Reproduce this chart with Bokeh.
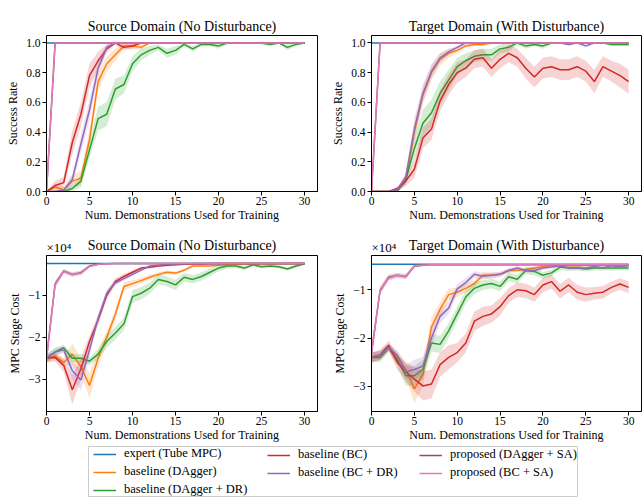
from bokeh.plotting import figure
from bokeh.models import (Range1d, FixedTicker, Legend, LegendItem, Title,
                          CustomJSTickFormatter, PrintfTickFormatter)
from bokeh.layouts import column, row
from bokeh.embed import file_html
from bokeh.resources import INLINE

FONT = "Liberation Serif"

# ---------------- data ----------------
X = [0, 1, 2, 3, 4, 5, 6, 7, 8, 9, 10, 11, 12, 13, 14, 15, 16, 17, 18, 19,
     20, 21, 22, 23, 24, 25, 26, 27, 28, 29, 30]

LABELS = ["expert (Tube MPC)", "baseline (DAgger)", "baseline (DAgger + DR)",
          "baseline (BC)", "baseline (BC + DR)", "proposed (DAgger + SA)",
          "proposed (BC + SA)"]
COLORS = ["#1f77b4", "#ff7f0e", "#2ca02c", "#d62728", "#9467bd", "#8c564b", "#e377c2"]

TITLES = ["Source Domain (No Disturbance)", "Target Domain (With Disturbance)",
          "Source Domain (No Disturbance)", "Target Domain (With Disturbance)"]
XLABEL = "Num. Demonstrations Used for Training"
YLABEL_RATE = "Success Rate"
YLABEL_COST = "MPC Stage Cost"
COST_SCALE_TEXT = "\u00d710\u2074"
X_TICKS = [0, 5, 10, 15, 20, 25, 30]
RATE_TICKS = [0.0, 0.2, 0.4, 0.6, 0.8, 1.0]
COST_TICKS = [-30000, -20000, -10000]

# --- Panel A: source success rate ---
A_EXPERT = [1.0, 1.0, 1.0, 1.0, 1.0, 1.0, 1.0, 1.0, 1.0, 1.0,
            1.0, 1.0, 1.0, 1.0, 1.0, 1.0, 1.0, 1.0, 1.0, 1.0,
            1.0, 1.0, 1.0, 1.0, 1.0, 1.0, 1.0, 1.0, 1.0, 1.0, 1.0]
A_DAGGER = [0.00, 0.03, 0.01, 0.07, 0.09, 0.35, 0.74, 0.86, 0.92, 0.98,
            0.98, 0.97, 1.00, 1.00, 1.00, 1.00, 1.00, 1.00, 1.00, 1.00,
            1.00, 1.00, 1.00, 1.00, 1.00, 1.00, 1.00, 1.00, 1.00, 1.00, 1.00]
A_DAGGER_SD = [0, 0.02, 0.02, 0.04, 0.05, 0.06, 0.06, 0.05, 0.04, 0.02,
               0.02, 0.02, 0, 0, 0, 0, 0, 0, 0, 0,
               0, 0, 0, 0, 0, 0, 0, 0, 0, 0, 0]
A_DAGGERDR = [0, 0, 0, 0.02, 0.07, 0.28, 0.49, 0.52, 0.69, 0.72,
              0.86, 0.92, 0.95, 0.97, 0.93, 0.95, 0.99, 0.96, 0.99, 0.99,
              0.98, 1.0, 1.0, 1.0, 1.0, 1.0, 0.99, 1.0, 0.97, 0.99, 1.0]
A_DAGGERDR_SD = [0, 0, 0.01, 0.02, 0.04, 0.06, 0.08, 0.08, 0.07, 0.06,
                 0.05, 0.04, 0.03, 0.02, 0.03, 0.03, 0.01, 0.02, 0.01, 0.01,
                 0.02, 0.01, 0, 0, 0, 0.01, 0.01, 0, 0.02, 0.01, 0]
A_BC = [0, 0.04, 0.06, 0.33, 0.52, 0.78, 0.88, 0.96, 1.0, 0.97,
        0.98, 1.0, 1.0, 1.0, 1.0, 1.0, 1.0, 1.0, 1.0, 1.0,
        1.0, 1.0, 1.0, 1.0, 1.0, 1.0, 1.0, 1.0, 1.0, 1.0, 1.0]
A_BC_SD = [0, 0.03, 0.04, 0.08, 0.08, 0.08, 0.06, 0.03, 0.01, 0.02,
           0.02, 0, 0, 0, 0, 0, 0, 0, 0, 0,
           0, 0, 0, 0, 0, 0, 0, 0, 0, 0, 0]
A_BCDR = [0, 0, 0.01, 0.08, 0.32, 0.55, 0.83, 0.97, 1.0, 1.0,
          1.0, 1.0, 1.0, 1.0, 1.0, 1.0, 1.0, 1.0, 1.0, 1.0,
          1.0, 1.0, 1.0, 1.0, 1.0, 1.0, 1.0, 1.0, 1.0, 1.0, 1.0]
A_BCDR_SD = [0, 0, 0.01, 0.04, 0.06, 0.07, 0.05, 0.02, 0, 0,
             0, 0, 0, 0, 0, 0, 0, 0, 0, 0,
             0, 0, 0, 0, 0, 0, 0, 0, 0, 0, 0]
A_DAGGERSA = [0, 1.0, 1.0, 1.0, 1.0, 1.0, 1.0, 1.0, 1.0, 1.0,
              1.0, 1.0, 1.0, 1.0, 1.0, 1.0, 1.0, 1.0, 1.0, 1.0,
              1.0, 1.0, 1.0, 1.0, 1.0, 1.0, 1.0, 1.0, 1.0, 1.0, 1.0]
A_BCSA = [0, 1.0, 1.0, 1.0, 1.0, 1.0, 1.0, 1.0, 1.0, 1.0,
          1.0, 1.0, 1.0, 1.0, 1.0, 1.0, 1.0, 1.0, 1.0, 1.0,
          1.0, 1.0, 1.0, 1.0, 1.0, 1.0, 1.0, 1.0, 1.0, 1.0, 1.0]
A_SA_SD = [0, 0, 0, 0, 0, 0, 0, 0, 0, 0,
           0, 0, 0, 0, 0, 0, 0, 0, 0, 0,
           0, 0, 0, 0, 0, 0, 0, 0, 0, 0, 0]

# --- Panel B: target success rate ---
B_EXPERT = A_EXPERT
B_DAGGER = [0, 0, 0, 0.01, 0.07, 0.40, 0.65, 0.80, 0.89, 0.93,
            0.95, 0.98, 0.99, 0.99, 1.0, 1.0, 1.0, 1.0, 1.0, 1.0,
            1.0, 1.0, 1.0, 1.0, 1.0, 1.0, 1.0, 1.0, 1.0, 1.0, 1.0]
B_DAGGER_SD = [0, 0, 0, 0.01, 0.03, 0.07, 0.06, 0.05, 0.04, 0.03,
               0.02, 0.01, 0.01, 0.01, 0, 0, 0, 0, 0, 0,
               0, 0, 0, 0, 0, 0, 0, 0, 0, 0, 0]
B_DAGGERDR = [0, 0, 0, 0, 0.08, 0.29, 0.46, 0.53, 0.66, 0.75,
              0.84, 0.88, 0.91, 0.92, 0.92, 0.96, 0.97, 1.0, 0.98, 0.99,
              0.98, 1.0, 1.0, 1.0, 1.0, 1.0, 1.0, 1.0, 0.99, 0.99, 0.99]
B_DAGGERDR_SD = [0, 0, 0, 0.01, 0.03, 0.07, 0.09, 0.09, 0.08, 0.07,
                 0.06, 0.05, 0.04, 0.04, 0.04, 0.03, 0.03, 0.01, 0.02, 0.01,
                 0.02, 0.01, 0, 0, 0, 0, 0, 0, 0.01, 0.01, 0.01]
B_BC = [0, 0, 0, 0.02, 0.07, 0.15, 0.36, 0.42, 0.61, 0.72,
        0.80, 0.83, 0.89, 0.90, 0.83, 0.89, 0.93, 0.90, 0.83, 0.77,
        0.83, 0.84, 0.82, 0.82, 0.84, 0.81, 0.74, 0.84, 0.81, 0.78, 0.74]
B_BC_SD = [0, 0, 0, 0.01, 0.03, 0.06, 0.07, 0.07, 0.07, 0.07,
           0.07, 0.06, 0.06, 0.06, 0.06, 0.06, 0.06, 0.06, 0.07, 0.07,
           0.07, 0.07, 0.07, 0.07, 0.07, 0.07, 0.08, 0.07, 0.07, 0.08, 0.08]
B_BCDR = [0, 0, 0, 0.01, 0.10, 0.42, 0.66, 0.81, 0.90, 0.94,
          0.97, 1.0, 1.0, 1.0, 1.0, 1.0, 1.0, 1.0, 1.0, 1.0,
          1.0, 1.0, 1.0, 0.99, 1.0, 0.98, 1.0, 1.0, 1.0, 1.0, 1.0]
B_BCDR_SD = [0, 0, 0, 0.01, 0.03, 0.07, 0.06, 0.05, 0.03, 0.02,
             0.01, 0.01, 0, 0, 0, 0, 0, 0, 0, 0,
             0, 0, 0, 0.01, 0, 0.01, 0, 0, 0, 0, 0]
B_DAGGERSA = A_DAGGERSA
B_BCSA = A_BCSA

# --- Panel C: source MPC stage cost ---
C_EXPERT = [-2400, -2400, -2400, -2400, -2400, -2400, -2400, -2400, -2400, -2400,
            -2400, -2400, -2400, -2400, -2400, -2400, -2400, -2400, -2400, -2400,
            -2400, -2400, -2400, -2400, -2400, -2400, -2400, -2400, -2400, -2400, -2400]
C_DAGGER = [-25000, -24500, -26000, -24000, -27000, -31500, -25000, -20000, -14500, -7900,
            -7200, -6500, -5700, -5000, -4500, -4700, -4000, -3000, -3000, -3000,
            -2800, -2700, -2650, -2600, -2550, -2500, -2500, -2450, -2450, -2400, -2400]
C_DAGGER_SD = [1000, 800, 1000, 2500, 2000, 3000, 2000, 1500, 1200, 1000,
               800, 700, 600, 500, 500, 400, 300, 300, 200, 200,
               200, 200, 150, 150, 150, 100, 100, 100, 100, 100, 100]
C_DAGGERDR = [-25000, -23500, -22500, -25000, -25000, -25700, -24000, -21000, -19000, -16800,
              -10300, -9500, -8300, -6200, -6700, -7500, -5700, -6200, -5500, -4500,
              -3500, -3000, -3000, -3500, -2700, -3200, -3000, -3200, -3700, -3000, -2500]
C_DAGGERDR_SD = [1000, 1000, 800, 1000, 1000, 1000, 1200, 1500, 1500, 1500,
                 1500, 1500, 1300, 1200, 1200, 1200, 1000, 1000, 1000, 900,
                 800, 600, 500, 500, 400, 400, 400, 400, 400, 400, 300]
C_BC = [-25000, -24800, -26700, -32500, -27500, -21000, -15900, -10000, -6700, -5500,
        -4500, -3500, -3300, -3000, -2800, -2700, -2600, -2500, -2500, -2450,
        -2400, -2400, -2400, -2400, -2400, -2400, -2400, -2400, -2400, -2400, -2400]
C_BC_SD = [1000, 1000, 1500, 3500, 2500, 1500, 1200, 1000, 800, 600,
           500, 400, 300, 300, 300, 200, 200, 200, 100, 100,
           100, 100, 100, 100, 100, 100, 100, 100, 100, 100, 100]
C_BCDR = [-25000, -23500, -23000, -28000, -30200, -23000, -15500, -9500, -7000, -6000,
          -5000, -4000, -3000, -2800, -2600, -2500, -2450, -2400, -2400, -2400,
          -2400, -2400, -2400, -2400, -2400, -2400, -2400, -2400, -2400, -2400, -2400]
C_BCDR_SD = [1000, 800, 800, 2000, 2500, 1500, 1000, 800, 600, 500,
             400, 300, 200, 200, 200, 100, 100, 100, 100, 100,
             100, 100, 100, 100, 100, 100, 100, 100, 100, 100, 100]
C_DAGGERSA = [-25000, -7300, -4200, -5000, -4600, -3000, -2600, -2450, -2400, -2400,
              -2400, -2400, -2400, -2400, -2400, -2400, -2400, -2400, -2400, -2400,
              -2400, -2400, -2400, -2400, -2400, -2400, -2400, -2400, -2400, -2400, -2400]
C_BCSA = [-25000, -7500, -4300, -5100, -4700, -3100, -2600, -2450, -2400, -2400,
          -2400, -2400, -2400, -2400, -2400, -2400, -2400, -2400, -2400, -2400,
          -2400, -2400, -2400, -2400, -2400, -2400, -2400, -2400, -2400, -2400, -2400]
C_SA_SD = [1000, 800, 500, 500, 500, 300, 200, 100, 100, 100,
           100, 100, 100, 100, 100, 100, 100, 100, 100, 100,
           100, 100, 100, 100, 100, 100, 100, 100, 100, 100, 100]

# --- Panel D: target MPC stage cost ---
D_EXPERT = [-4700, -4700, -4700, -4700, -4700, -4700, -4700, -4700, -4700, -4700,
            -4700, -4700, -4700, -4700, -4700, -4700, -4700, -4700, -4700, -4700,
            -4700, -4700, -4700, -4700, -4700, -4700, -4700, -4700, -4700, -4700, -4700]
D_DAGGER = [-24000, -23500, -22000, -24000, -26500, -30500, -27500, -17700, -14000, -11000,
            -10500, -9700, -8700, -7000, -7000, -6800, -6000, -6000, -5800, -5500,
            -5200, -5000, -5000, -5000, -5000, -4900, -4900, -4900, -4800, -4800, -4800]
D_DAGGER_SD = [1000, 1000, 800, 1200, 1500, 3000, 2500, 2000, 1500, 1200,
               1000, 900, 800, 700, 600, 500, 400, 400, 300, 300,
               300, 300, 200, 200, 200, 200, 200, 200, 200, 200, 200]
D_DAGGERDR = [-24000, -24000, -22000, -24500, -27800, -27800, -26500, -21000, -21300, -18500,
              -15000, -11500, -9700, -9000, -8700, -9300, -7300, -7800, -6000, -6200,
              -7000, -6500, -5300, -5500, -5500, -5700, -5500, -5500, -5500, -5500, -5500]
D_DAGGERDR_SD = [1000, 1000, 800, 1200, 2000, 2000, 2000, 1800, 1800, 1500,
                 1500, 1300, 1200, 1000, 1000, 1000, 900, 900, 800, 800,
                 700, 700, 600, 600, 500, 500, 500, 500, 500, 500, 500]
D_BC = [-24000, -23500, -21500, -25000, -27000, -28500, -29900, -29500, -25500, -24000,
        -23000, -21000, -16500, -15500, -15000, -13500, -11200, -10000, -10200, -11000,
        -9000, -8300, -10300, -9000, -10500, -11000, -10700, -10500, -9500, -8800, -9500]
D_BC_SD = [1000, 1000, 1000, 1500, 2000, 2500, 3000, 3000, 2500, 2500,
           2000, 2000, 2000, 2000, 1800, 1800, 1500, 1500, 1500, 1500,
           1500, 1500, 1500, 1500, 1500, 1500, 1300, 1300, 1200, 1200, 1200]
D_BCDR = [-24000, -23500, -22000, -23500, -27000, -26500, -25800, -20000, -15500, -13800,
          -9800, -8500, -6800, -7200, -7000, -6800, -6000, -5500, -6000, -6000,
          -5500, -5300, -5000, -5500, -5500, -5500, -5200, -5500, -5000, -5200, -5000]
D_BCDR_SD = [1000, 1000, 800, 1000, 1500, 2000, 2000, 1800, 1500, 1200,
             1000, 900, 700, 600, 600, 500, 500, 400, 400, 400,
             400, 300, 300, 300, 300, 300, 300, 300, 300, 300, 300]
D_DAGGERSA = [-23000, -10200, -7400, -7000, -7300, -5100, -4900, -4800, -4800, -4800,
              -4800, -4800, -4800, -4800, -4800, -4800, -4800, -4800, -4800, -4800,
              -4800, -4800, -4800, -4800, -4800, -4800, -4800, -4800, -4800, -4800, -4800]
D_BCSA = [-23000, -10000, -7600, -7000, -7200, -5000, -4900, -4800, -4800, -4800,
          -4800, -4800, -4800, -4800, -4800, -4800, -4800, -4800, -4800, -4800,
          -4800, -4800, -4800, -4800, -4800, -4800, -4800, -4800, -4800, -4800, -4800]
D_SA_SD = [1500, 800, 600, 500, 500, 300, 200, 100, 100, 100,
           100, 100, 100, 100, 100, 100, 100, 100, 100, 100,
           100, 100, 100, 100, 100, 100, 100, 100, 100, 100, 100]

PANELS = [
    dict(means=[A_EXPERT, A_DAGGER, A_DAGGERDR, A_BC, A_BCDR, A_DAGGERSA, A_BCSA],
         sds=[None, A_DAGGER_SD, A_DAGGERDR_SD, A_BC_SD, A_BCDR_SD, A_SA_SD, A_SA_SD]),
    dict(means=[B_EXPERT, B_DAGGER, B_DAGGERDR, B_BC, B_BCDR, B_DAGGERSA, B_BCSA],
         sds=[None, B_DAGGER_SD, B_DAGGERDR_SD, B_BC_SD, B_BCDR_SD, A_SA_SD, A_SA_SD]),
    dict(means=[C_EXPERT, C_DAGGER, C_DAGGERDR, C_BC, C_BCDR, C_DAGGERSA, C_BCSA],
         sds=[None, C_DAGGER_SD, C_DAGGERDR_SD, C_BC_SD, C_BCDR_SD, C_SA_SD, C_SA_SD]),
    dict(means=[D_EXPERT, D_DAGGER, D_DAGGERDR, D_BC, D_BCDR, D_DAGGERSA, D_BCSA],
         sds=[None, D_DAGGER_SD, D_DAGGERDR_SD, D_BC_SD, D_BCDR_SD, D_SA_SD, D_SA_SD]),
]


def style_axis(ax, label_standoff, axis_standoff):
    ax.major_tick_out = 4
    ax.major_tick_in = 0
    ax.minor_tick_out = 0
    ax.minor_tick_in = 0
    ax.axis_line_color = "black"
    ax.major_tick_line_color = "black"
    ax.major_label_text_font = FONT
    ax.major_label_text_font_size = "11.5px"
    ax.major_label_text_color = "black"
    ax.major_label_standoff = label_standoff
    ax.axis_label_text_font = FONT
    ax.axis_label_text_font_size = "12px"
    ax.axis_label_text_font_style = "normal"
    ax.axis_label_text_color = "black"
    ax.axis_label_standoff = axis_standoff


def make_panel(idx, cost, yr, width, height, bl, br, bt, bb, title_standoff):
    p = figure(width=width, height=height, x_range=Range1d(0, 31.5),
               y_range=Range1d(yr[0], yr[1]), output_backend="svg",
               toolbar_location=None, title=TITLES[idx],
               min_border_left=bl, min_border_right=br,
               min_border_top=bt, min_border_bottom=bb)
    p.title.text_font = FONT
    p.title.text_font_size = "14px"
    p.title.text_font_style = "normal"
    p.title.text_color = "black"
    p.title.align = "center"
    p.title.standoff = title_standoff
    p.outline_line_color = "black"
    p.outline_line_alpha = 1
    p.outline_line_width = 1
    p.xgrid.visible = False
    p.ygrid.visible = False
    p.background_fill_color = "white"
    p.border_fill_color = "white"

    d = PANELS[idx]
    for m, s, c in zip(d["means"], d["sds"], COLORS):
        p.line(X, m, line_color=c, line_width=1.5)
        if s is not None:
            lo = [a - b for a, b in zip(m, s)]
            hi = [a + b for a, b in zip(m, s)]
            p.varea(x=X, y1=lo, y2=hi, fill_color=c, fill_alpha=0.2)

    p.xaxis.ticker = FixedTicker(ticks=X_TICKS, minor_ticks=[])
    p.xaxis.axis_label = XLABEL
    if cost:
        p.yaxis.ticker = FixedTicker(ticks=COST_TICKS, minor_ticks=[])
        p.yaxis.formatter = CustomJSTickFormatter(
            code="var v = tick/10000; return (v < 0 ? '\u2212' : '') + Math.abs(v).toFixed(0);")
        p.yaxis.axis_label = YLABEL_COST
        p.add_layout(Title(text=COST_SCALE_TEXT, align="left", text_font=FONT,
                           text_font_size="13px", text_font_style="normal",
                           text_color="black", standoff=1, offset=0), "above")
    else:
        p.yaxis.ticker = FixedTicker(ticks=RATE_TICKS, minor_ticks=[])
        p.yaxis.formatter = PrintfTickFormatter(format="%.1f")
        p.yaxis.axis_label = YLABEL_RATE
    style_axis(p.xaxis[0], 1, 0)
    style_axis(p.yaxis[0], 2, 3)
    return p


p1 = make_panel(0, False, (0.0, 1.05), 325, 225, 46, 8, 35, 34, 4)
p2 = make_panel(1, False, (0.0, 1.05), 317, 225, 46, 1, 35, 34, 4)
p3 = make_panel(2, True, (-37700, -500), 325, 220, 46, 8, 30, 34, -30)
p4 = make_panel(3, True, (-35200, -2900), 317, 220, 46, 1, 30, 34, -30)

# ---------------- legend ----------------
lf = figure(width=578, height=52, x_range=Range1d(0, 1), y_range=Range1d(0, 1),
            output_backend="svg", toolbar_location=None,
            x_axis_location=None, y_axis_location=None,
            min_border_left=88, min_border_right=0, min_border_top=1, min_border_bottom=0)
lf.xgrid.visible = False
lf.ygrid.visible = False
lf.outline_line_color = "#cccccc"
lf.outline_line_width = 1
lf.background_fill_color = "white"
lf.border_fill_color = "white"

NAN = float("nan")
rends = [lf.line(x=[0.5], y=[NAN], line_color=c, line_width=1.5) for c in COLORS]
groups = [([0, 1, 2], (5, 0)), ([3, 4], (179, 17)), ([5, 6], (331, 17))]
for idxs, loc in groups:
    leg = Legend(items=[LegendItem(label=LABELS[i], renderers=[rends[i]]) for i in idxs],
                 location=loc, orientation="vertical", padding=0, margin=0, spacing=3,
                 glyph_width=23, glyph_height=14, label_height=14, label_standoff=8,
                 label_text_font=FONT, label_text_font_size="12.5px",
                 label_text_color="black", border_line_alpha=0,
                 background_fill_alpha=0)
    lf.add_layout(leg)

layout = column(row(p1, p2), row(p3, p4), lf)

with open("out.html", "w") as f:
    f.write(file_html(layout, INLINE))
